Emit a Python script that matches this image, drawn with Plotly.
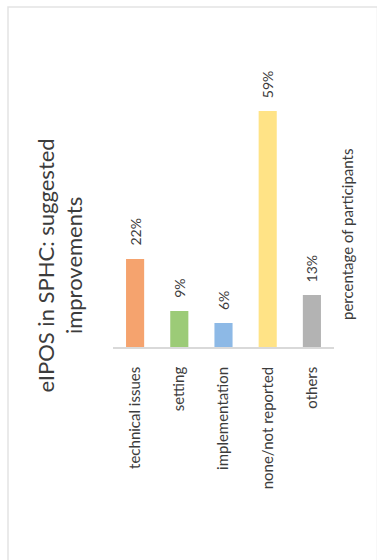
import plotly.graph_objects as go

categories = ["technical issues", "setting", "implementation", "none/not reported", "others"]
values = [22, 9, 6, 59, 13]
value_labels = ["22%", "9%", "6%", "59%", "13%"]
colors = ["#F5A36E", "#9CCB77", "#8DB9E6", "#FFE386", "#B3B3B3"]
title_text = "eIPOS in SPHC: suggested<br>improvements"
axis_label = "percentage of participants"

W, H = 377, 560
L, R, T, B = 113, 43, 107, 213
PW, PH = W - L - R, H - T - B


def px(x):
    return (x - L) / PW


def py(y):
    return (H - B - y) / PH


FONT = "Lato"
TXT = "#3C3C3C"

fig = go.Figure(
    go.Bar(
        x=categories,
        y=values,
        marker=dict(color=colors, line=dict(width=0)),
        width=0.41,
        cliponaxis=False,
        hoverinfo="skip",
    )
)

annotations = []
for c, v, lab in zip(categories, values, value_labels):
    annotations.append(dict(
        x=c, y=v, xref="x", yref="y", text=lab, showarrow=False,
        textangle=-90, xanchor="center", yanchor="bottom", yshift=11,
        font=dict(family=FONT, size=14, color=TXT),
    ))

annotations.append(dict(
    x=px(59.5), y=py(266), xref="paper", yref="paper", text=title_text,
    showarrow=False, textangle=-90, xanchor="center", yanchor="middle",
    font=dict(family=FONT, size=22, color=TXT), align="center",
))
annotations.append(dict(
    x=px(347), y=py(235), xref="paper", yref="paper", text=axis_label,
    showarrow=False, textangle=-90, xanchor="center", yanchor="middle",
    font=dict(family=FONT, size=15, color=TXT),
))

fig.update_layout(
    width=W, height=H,
    margin=dict(l=L, r=R, t=T, b=B, pad=0),
    paper_bgcolor="white", plot_bgcolor="white",
    showlegend=False,
    annotations=annotations,
    shapes=[dict(
        type="rect", xref="paper", yref="paper",
        x0=px(8), x1=px(377.5), y0=py(565), y1=py(7),
        line=dict(color="#E3E3E3", width=1.5), fillcolor="rgba(0,0,0,0)",
        layer="below",
    )],
    xaxis=dict(
        tickangle=-90, showline=True, linecolor="#D9D9D9", linewidth=1.5,
        showgrid=False, ticks="", ticklabelstandoff=12,
        tickfont=dict(family=FONT, size=15, color=TXT),
        fixedrange=True,
    ),
    yaxis=dict(
        range=[0, 60], visible=False, showgrid=False, zeroline=False,
        fixedrange=True,
    ),
)

fig.write_html(
    "out.html",
    config={"displayModeBar": False},
    post_script="document.body.style.margin='0';document.body.style.padding='0';",
)
